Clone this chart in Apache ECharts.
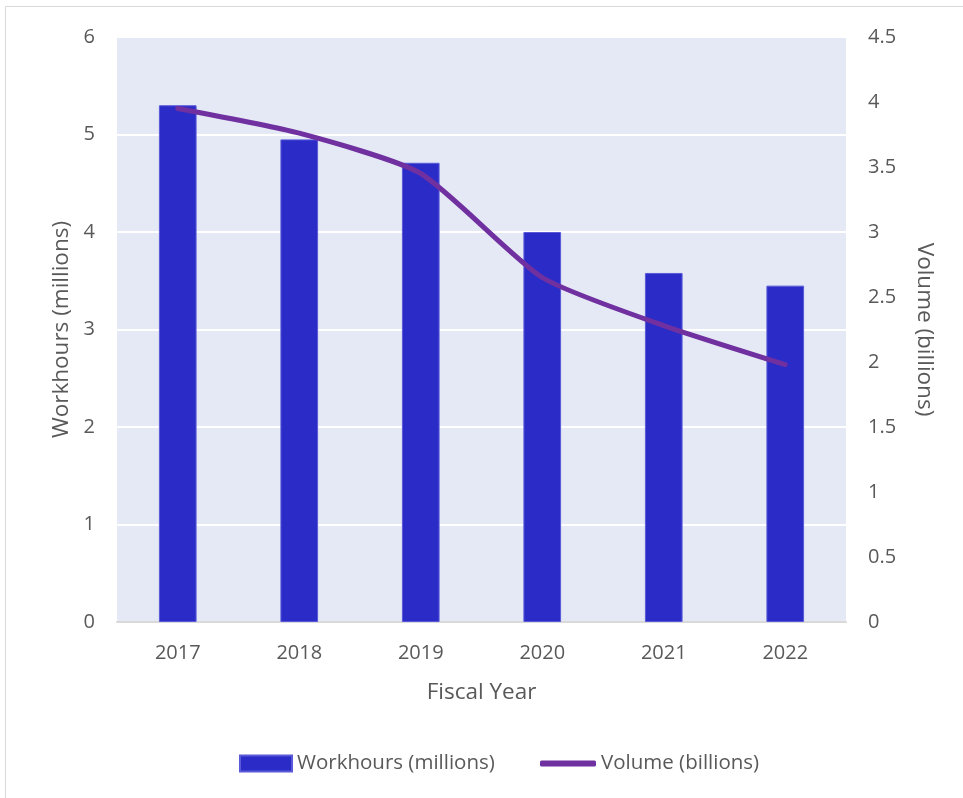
<!DOCTYPE html>
<html>
<head>
<meta charset="utf-8">
<script src="https://cdn.jsdelivr.net/npm/echarts@6/dist/echarts.min.js"></script>
<style>
  html, body { margin: 0; padding: 0; background: #ffffff; }
  #chart { width: 963px; height: 798px; }
</style>
</head>
<body>
<div id="chart"></div>
<script>
// Fiscal years on the category axis
const years = ['2017', '2018', '2019', '2020', '2021', '2022'];
// Workhours in millions (bars, left axis)
const workhours = [5.3, 4.95, 4.71, 4.0, 3.58, 3.45];
// Mail volume in billions (line, right axis)
const volume = [3.95, 3.76, 3.45, 2.65, 2.28, 1.98];

const textColor = '#595959';
const fontFamily = 'Open Sans, Noto Sans, sans-serif';

const chart = echarts.init(document.getElementById('chart'), null, { renderer: 'canvas' });

chart.setOption({
  backgroundColor: '#ffffff',
  animation: false,
  textStyle: { fontFamily: fontFamily, color: textColor },
  graphic: [{
    type: 'rect',
    shape: { x: 5.5, y: 6.5, width: 980, height: 820 },
    style: { fill: 'none', stroke: '#d9d9d9', lineWidth: 1 },
    silent: true,
    z: -10
  }],
  grid: {
    left: 117, right: 117, top: 37, bottom: 176,
    show: true, backgroundColor: '#e4e9f5', borderWidth: 0
  },
  legend: [{
    data: [{ name: 'Workhours (millions)', icon: 'rect' }],
    left: 234, top: 748,
    itemWidth: 52, itemHeight: 16, itemGap: 0,
    textStyle: { color: textColor, fontSize: 20.5, fontFamily: fontFamily }
  }, {
    data: [{ name: 'Volume (billions)', icon: 'roundRect' }],
    left: 535, top: 748,
    itemWidth: 56, itemHeight: 6, itemGap: 0,
    textStyle: { color: textColor, fontSize: 20.5, fontFamily: fontFamily }
  }],
  xAxis: {
    type: 'category',
    data: years,
    name: 'Fiscal Year',
    nameLocation: 'middle',
    nameGap: 59,
    nameTextStyle: { color: textColor, fontSize: 22.5, fontFamily: fontFamily },
    axisLine: { show: true, lineStyle: { color: '#d9d9d9', width: 2 } },
    axisTick: { show: false },
    axisLabel: { color: textColor, fontSize: 20, margin: 21, fontFamily: fontFamily }
  },
  yAxis: [{
    type: 'value',
    min: 0, max: 6, interval: 1,
    name: 'Workhours (millions)',
    nameLocation: 'middle',
    nameGap: 43,
    nameTextStyle: { color: textColor, fontSize: 22.5, fontFamily: fontFamily },
    axisLine: { show: false },
    axisTick: { show: false },
    axisLabel: { color: textColor, fontSize: 20, margin: 22, fontFamily: fontFamily },
    splitLine: { show: true, lineStyle: { color: '#ffffff', width: 2 } }
  }, {
    type: 'value',
    min: 0, max: 4.5, interval: 0.5,
    name: 'Volume (billions)',
    nameLocation: 'middle',
    nameGap: 67,
    nameRotate: -90,
    nameTextStyle: { color: textColor, fontSize: 22.5, fontFamily: fontFamily },
    axisLine: { show: false },
    axisTick: { show: false },
    axisLabel: { color: textColor, fontSize: 20, margin: 22, fontFamily: fontFamily },
    splitLine: { show: false }
  }],
  series: [{
    name: 'Workhours (millions)',
    type: 'bar',
    yAxisIndex: 0,
    data: workhours,
    barWidth: '31%',
    itemStyle: { color: '#2b2bc8', borderColor: '#5a5ad8', borderWidth: 1 }
  }, {
    name: 'Volume (billions)',
    type: 'line',
    yAxisIndex: 1,
    data: volume,
    smooth: 0.2,
    showSymbol: false,
    symbol: 'none',
    lineStyle: { color: '#7030a0', width: 5, cap: 'round', join: 'round' },
    itemStyle: { color: '#7030a0' }
  }]
});
</script>
</body>
</html>
